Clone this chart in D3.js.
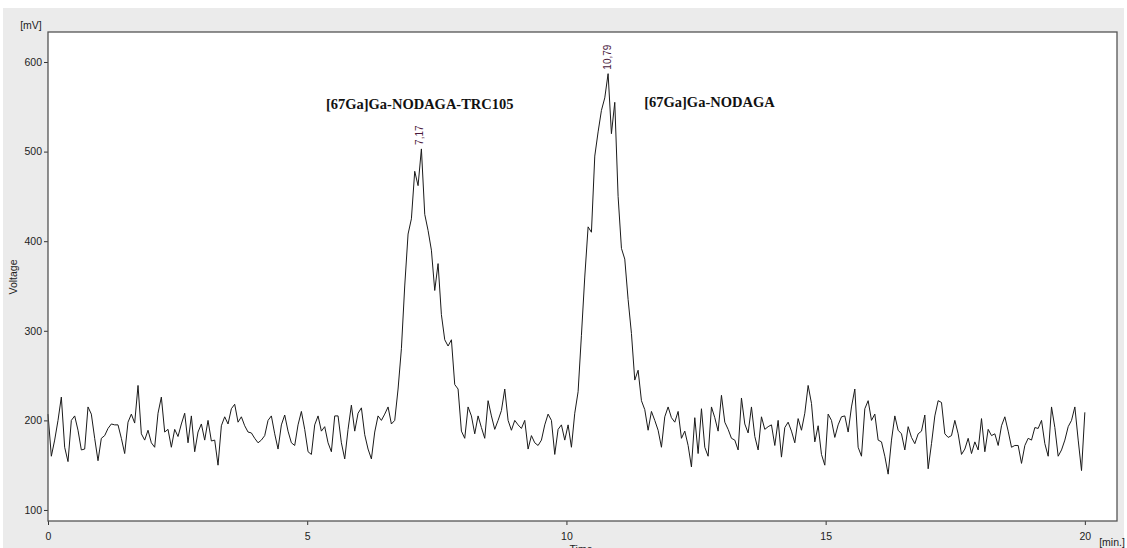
<!DOCTYPE html>
<html lang="en">
<head>
<meta charset="UTF-8">
<title>Chromatogram</title>
<script src="https://d3js.org/d3.v7.min.js"></script>
<style>
  body { margin: 0; background: #fff; }
  svg { display: block; }
  .axis text { font-family: "Liberation Sans", Arial, sans-serif; font-size: 10.5px; fill: #222; }
  .axis path { display: none; }
  .axis line { stroke: #333; }
</style>
</head>
<body>
<svg width="1127" height="548"></svg>
<script>
// detector signal [mV], sampled evenly from 0 to 20 min
const voltage = [
  207,160,178,200,226,170,154,200,205,189,167,168,215,207,180,155,180,183,191,196,
  195,195,180,163,198,207,197,239,185,178,189,175,170,208,226,187,190,170,190,182,
  196,208,175,205,165,187,196,178,200,177,178,150,194,204,196,213,218,198,204,194,
  187,186,180,175,178,183,200,205,185,168,195,206,188,175,172,195,210,190,165,162,
  195,205,188,193,175,165,205,205,175,157,190,217,188,208,214,184,168,157,187,205,
  200,207,215,196,200,235,280,350,408,425,478,462,503,430,412,390,345,375,318,290,
  283,290,240,235,188,180,215,205,185,205,192,180,222,
  205,190,200,211,235,200,189,200,195,191,200,168,183,175,172,178,195,207,200,162,
  190,195,178,195,170,208,232,
  295,360,416,410,495,522,546,560,587,520,555,450,392,380,335,297,245,256,222,212,
  189,210,200,189,170,204,215,203,198,210,
  180,188,172,148,203,163,213,170,160,215,203,188,228,198,190,180,178,167,225,196,
  186,215,182,167,204,190,193,195,172,200,159,192,198,188,175,202,189,208,239,219,
  176,194,162,150,207,200,181,195,204,205,187,215,235,170,160,213,222,200,207,178,
  176,160,140,178,205,189,185,167,193,181,174,185,188,206,146,174,205,222,220,185,
  181,183,200,185,162,168,180,163,176,167,202,165,190,183,185,172,194,204,188,170,
  172,172,152,172,180,178,192,191,200,174,160,215,192,160,167,178,193,200,215,178,
  144,209
];
const tStart = 0, tEnd = 20;

const xTicks = [0, 5, 10, 15, 20];
const yTicks = [100, 200, 300, 400, 500, 600];
const peakTimes = [7.17, 10.79];
const peakLabels = ['7,17', '10,79'];
const compoundNames = ['[67Ga]Ga-NODAGA-TRC105', '[67Ga]Ga-NODAGA'];
const compoundTimes = [5.36, 11.5];
const compoundLevels = [547, 550];

const svg = d3.select('svg');
const margin = { top: 32, right: 10, bottom: 27, left: 48 };
const width = 1117 - margin.left;
const height = 521 - margin.top;

// panel background
svg.append('rect').attr('x', 3).attr('y', 8).attr('width', 1121).attr('height', 540).attr('fill', '#ebebeb');

const g = svg.append('g').attr('transform', `translate(${margin.left},${margin.top})`);
g.append('rect').attr('width', width).attr('height', height).attr('fill', '#fff');

const x = d3.scaleLinear().domain([0, 20.62]).range([0, width]);
const y = d3.scaleLinear().domain([87.7, 633.5]).range([height, 0]);

const dt = (tEnd - tStart) / (voltage.length - 1);
const points = voltage.map((v, i) => ({ t: tStart + i * dt, v: v }));

g.append('g').attr('class', 'axis')
  .attr('transform', `translate(0,${height})`)
  .call(d3.axisBottom(x).tickValues(xTicks).tickSize(4).tickPadding(8).tickFormat(d3.format('d')));
g.append('g').attr('class', 'axis')
  .call(d3.axisLeft(y).tickValues(yTicks).tickSize(4).tickPadding(2).tickFormat(d3.format('d')));

g.append('path')
  .datum(points)
  .attr('fill', 'none')
  .attr('stroke', '#1a1a1a')
  .attr('stroke-width', 1)
  .attr('d', d3.line().x(d => x(d.t)).y(d => y(d.v)));

// frame
g.append('rect').attr('width', width).attr('height', height)
  .attr('fill', 'none').attr('stroke', '#555').attr('stroke-width', 1.3);

// peak retention labels
peakTimes.forEach((pt, i) => {
  const top = d3.max(points.filter(d => Math.abs(d.t - pt) < 0.15), d => d.v);
  g.append('text')
    .attr('transform', `translate(${x(pt) + 3.5},${y(top) - 4}) rotate(-90)`)
    .attr('font-family', '"Liberation Sans", Arial, sans-serif')
    .attr('font-size', 10)
    .attr('fill', '#4a1a3c')
    .text(peakLabels[i]);
});

// compound names
compoundNames.forEach((name, i) => {
  g.append('text')
    .attr('x', x(compoundTimes[i]))
    .attr('y', y(compoundLevels[i]))
    .attr('font-family', '"Liberation Serif", "Times New Roman", serif')
    .attr('font-weight', 'bold')
    .attr('font-size', 14.5)
    .attr('fill', '#111')
    .text(name);
});

// axis captions
const cap = { 'font-family': '"Liberation Sans", Arial, sans-serif', 'font-size': 10.5, 'fill': '#222' };
function caption(txt, tx, ty, rot) {
  const t = svg.append('text').text(txt)
    .attr('transform', `translate(${tx},${ty})` + (rot ? ` rotate(${rot})` : ''))
    .attr('text-anchor', 'middle');
  Object.entries(cap).forEach(([k, v]) => t.attr(k, v));
}
caption('[mV]', 31, 29);
caption('Voltage', 17, 277, -90);
caption('Time', 581, 553);
caption('[min.]', 1112, 546);
</script>
</body>
</html>
